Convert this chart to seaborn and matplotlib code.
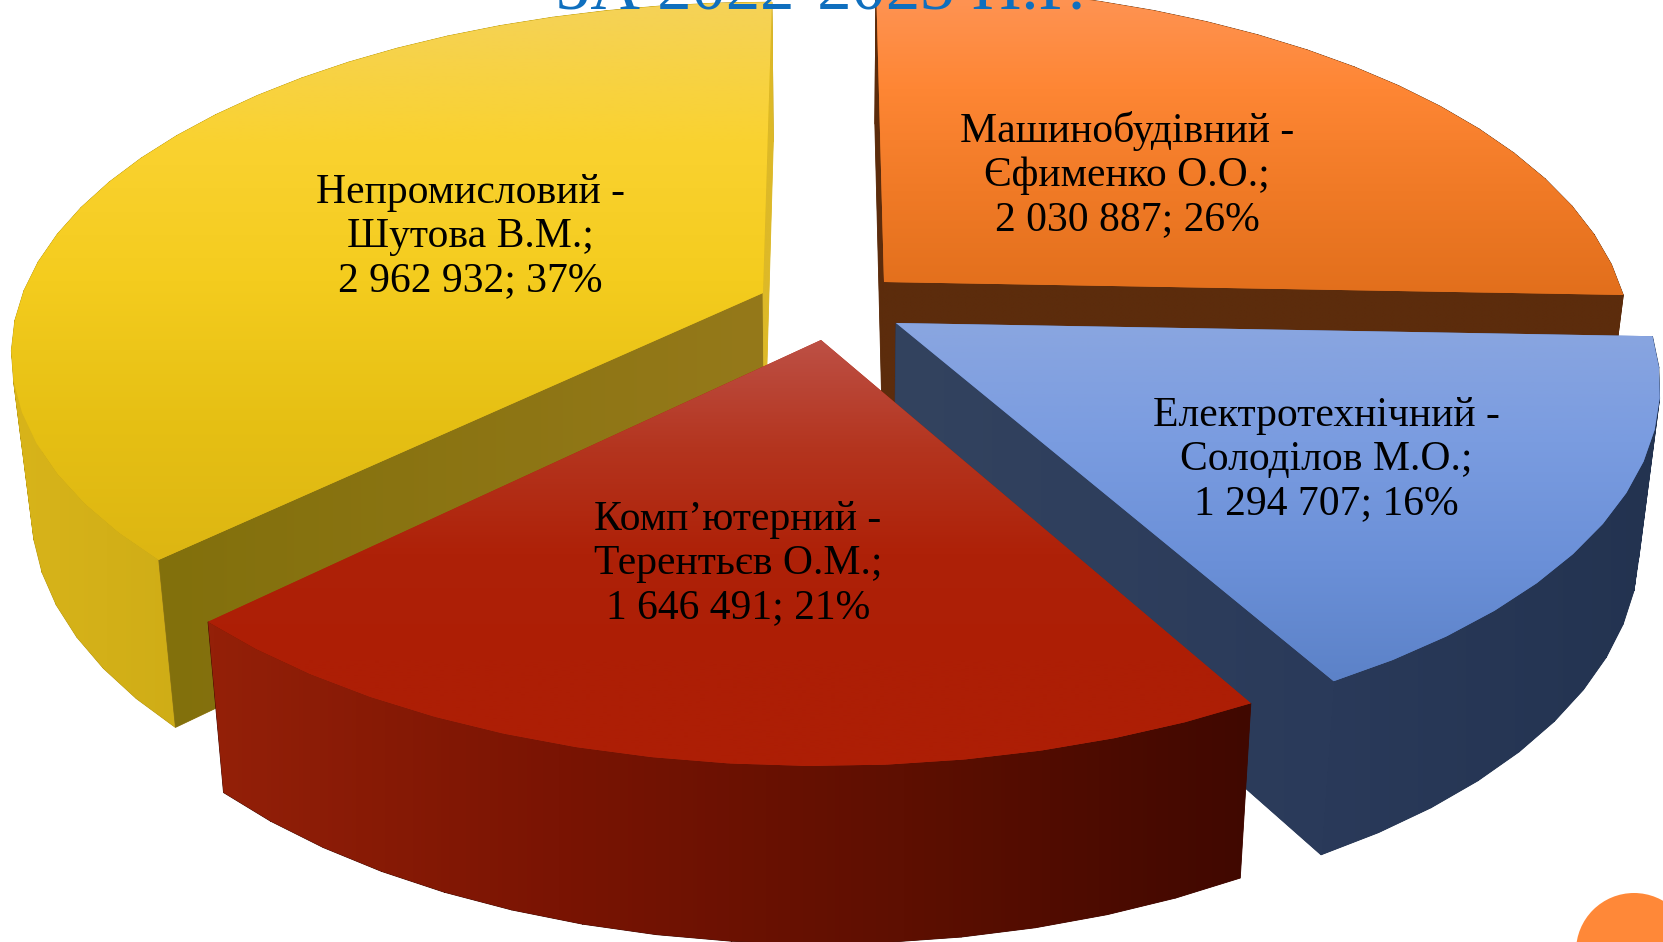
import numpy as np
import matplotlib
matplotlib.use("Agg")
import matplotlib.pyplot as plt
from matplotlib.patches import Circle, PathPatch
from matplotlib.path import Path
import seaborn as sns

# ---- data (clockwise from 12 o'clock) ----
departments = ["Машинобудівний", "Електротехнічний", "Комп’ютерний", "Непромисловий"]
heads = ["Єфименко О.О.", "Солоділов М.О.", "Терентьєв О.М.", "Шутова В.М."]
values = [2030887, 1294707, 1646491, 2962932]
percents = [26, 16, 21, 37]
title = "ЗА 2022-2023 Н.Р."

# ---- layout / style ----
W, H = 1663, 942
CX, K = 827.0, 0.162
SX, SY, DY = 0.975, 1.05, 139.6
apex = {0: (884, 282), 1: (896, 323), 2: (821, 340), 3: (763, 293)}
radius = {0: 735, 1: 752, 2: 760, 3: 740}
depth = {0: 345, 1: 352, 2: 357, 3: 338}
label_pos = {0: (1127, 175), 1: (1326, 460), 2: (738, 564), 3: (470, 237)}
top_cols = [
    ["#FF9557", "#FE8634", "#F07A26", "#E26F1C"],
    ["#8AA6E0", "#7A9CE0", "#6B90D8", "#5C82C8"],
    ["#BD5045", "#B4351F", "#AE2108", "#AD1E05", "#AD1E05"],
    ["#F5D258", "#FAD230", "#F4CC1E", "#E6C014", "#DDB612"],
]
outer_cols = [
    ["#5C2C0C", "#5C2C0C"],
    ["#2A3A5A", "#233350"],
    ["#942008", "#7A1403", "#5E0F01", "#400800"],
    ["#D8B41A", "#C4A412", "#B4940E"],
]
start_face_cols = [["#5C2C0C"] * 2, None, None, ["#82700C", "#95791A"]]
end_face_cols = [["#5C2C0C"] * 2, ["#33435F", "#2A3A5A"], None, ["#DDB928"] * 2]

sns.set_style("white")
fig = plt.figure(figsize=(W / 100, H / 100), dpi=100)
ax = fig.add_axes([0, 0, 1, 1])
ax.set_axis_off()


def ring(i, t):
    ax_, ay_ = apex[i]
    x, y = np.sin(t), -np.cos(t)
    den = 1 - K * y
    return CX + (ax_ - CX + radius[i] * x) / den, ay_ + depth[i] * y / den


def lower(x, y):
    return CX + SX * (np.asarray(x) - CX), SY * np.asarray(y) + DY


def oriented(quad):
    q = np.asarray(quad, float)
    x, y = q[:, 0], q[:, 1]
    area = np.sum(x * np.roll(y, -1) - np.roll(x, -1) * y)
    return q if area > 0 else q[::-1]


def grad_path(path, colors, direction, z, lw=0.6):
    ax.add_patch(PathPatch(path, fc=colors[-1], ec=colors[-1], lw=lw, zorder=z))
    clip = PathPatch(path, fc="none", ec="none", zorder=z)
    ax.add_patch(clip)
    cmap = sns.blend_palette(colors, as_cmap=True)
    g = np.linspace(0, 1, 256)
    arr = g[None, :] if direction == "h" else g[:, None]
    v = path.vertices
    x0, x1, y0, y1 = v[:, 0].min(), v[:, 0].max(), v[:, 1].min(), v[:, 1].max()
    im = ax.imshow(arr, cmap=cmap, extent=(x0, x1, y1, y0), aspect="auto",
                   origin="upper", zorder=z, interpolation="bilinear", vmin=0, vmax=1)
    im.set_clip_path(clip)


def poly_path(pts):
    pts = np.asarray(pts, float)
    return Path(np.vstack([pts, pts[:1]]), closed=True)


def strips_path(xs, ys, bx, by):
    verts, codes = [], []
    for j in range(len(xs) - 1):
        q = oriented([(xs[j], ys[j]), (xs[j + 1], ys[j + 1]), (bx[j + 1], by[j + 1]), (bx[j], by[j])])
        verts.extend(list(q) + [q[0]])
        codes.extend([Path.MOVETO, Path.LINETO, Path.LINETO, Path.LINETO, Path.CLOSEPOLY])
    return Path(np.array(verts), codes)


shares = np.asarray(values, float) / np.sum(values)
edges = np.concatenate([[0], np.cumsum(shares)]) * 2 * np.pi

ax.text(821, 9, title, family="Liberation Serif", fontsize=49.5, color="#0F6FBE",
        ha="center", va="baseline", zorder=90)
ax.add_patch(Circle((1634, 951), 58, fc="#FF8838", ec="none", zorder=1))

for z, i in enumerate([3, 0, 1, 2]):
    base = 10 + z * 10
    t = np.linspace(edges[i], edges[i + 1], int(round(shares[i] * 72)) + 1)
    xs, ys = ring(i, t)
    bx, by = lower(xs, ys)
    axp, ayp = apex[i]
    abx, aby = lower(axp, ayp)
    grad_path(strips_path(xs, ys, bx, by), outer_cols[i], "h", base)
    if start_face_cols[i]:
        grad_path(poly_path([(axp, ayp), (xs[0], ys[0]), (bx[0], by[0]), (abx, aby)]),
                  start_face_cols[i], "h", base + 1)
    if end_face_cols[i]:
        grad_path(poly_path([(axp, ayp), (xs[-1], ys[-1]), (bx[-1], by[-1]), (abx, aby)]),
                  end_face_cols[i], "h", base + 2)
    top = np.vstack([[(axp, ayp)], np.column_stack([xs, ys])])
    grad_path(poly_path(top), top_cols[i], "v", base + 3, lw=0)

for i in range(4):
    lx, ly = label_pos[i]
    sval = f"{values[i]:,}".replace(",", " ")
    ax.text(lx, ly, f"{departments[i]} -\n{heads[i]};\n{sval}; {percents[i]}%",
            family="Liberation Serif", fontsize=30, color="black", ha="center",
            va="center", linespacing=1.18, zorder=100)

ax.set_xlim(0, W)
ax.set_ylim(H, 0)
fig.savefig("out.png", dpi=100, facecolor="white")
